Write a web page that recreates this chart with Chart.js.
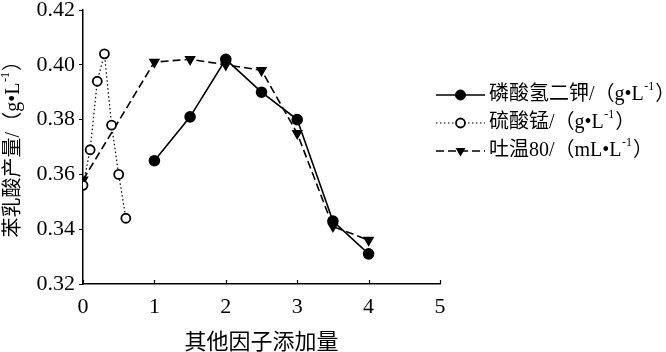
<!DOCTYPE html>
<html>
<head>
<meta charset="utf-8">
<script src="https://cdn.jsdelivr.net/npm/chart.js@4/dist/chart.umd.min.js"></script>
<style>
html,body{margin:0;padding:0;background:#fff;}
#wrap{width:666px;height:352px;position:relative;}
</style>
</head>
<body>
<div id="wrap"><canvas id="c" width="666" height="352"></canvas></div>
<script>
// ---- data ----
const seriesNames = ['磷酸氢二钾/（g•L', '硫酸锰/（g•L', '吐温80/（mL•L'];
const seriesUnitSup = '-1';
const k2hpo4X = [1, 1.5, 2, 2.5, 3, 3.5, 4];
const k2hpo4Y = [0.365, 0.381, 0.402, 0.390, 0.380, 0.343, 0.331];
const mnso4X = [0, 0.1, 0.2, 0.3, 0.4, 0.5, 0.6];
const mnso4Y = [0.356, 0.369, 0.394, 0.404, 0.378, 0.360, 0.344];
const tweenX = [0, 1, 1.5, 2, 2.5, 3, 3.5, 4];
const tweenY = [0.358, 0.401, 0.402, 0.400, 0.398, 0.375, 0.341, 0.336];
const xTicks = [0, 1, 2, 3, 4, 5];
const yTicks = [0.32, 0.34, 0.36, 0.38, 0.40, 0.42];
const xTitle = '其他因子添加量';
const yTitle = '苯乳酸产量/（g•L';

const pts = (xs, ys) => xs.map((x, i) => ({x: x, y: ys[i]}));
const SERIF = "'Liberation Serif', 'Noto Sans CJK SC', serif";

const datasets = [
  {label: seriesNames[0], data: pts(k2hpo4X, k2hpo4Y), borderColor: '#000', backgroundColor: '#000',
   borderWidth: 1.6, pointStyle: 'circle', pointRadius: 5, pointBackgroundColor: '#000', pointBorderColor: '#000', borderDash: []},
  {label: seriesNames[1], data: pts(mnso4X, mnso4Y), borderColor: '#000', backgroundColor: '#fff',
   borderWidth: 1.2, pointStyle: 'circle', pointRadius: 4.5, pointBorderWidth: 1.8, pointBackgroundColor: '#fff', pointBorderColor: '#000', borderDash: [1.5, 2.5]},
  {label: seriesNames[2], data: pts(tweenX, tweenY), borderColor: '#000', backgroundColor: '#000',
   borderWidth: 1.6, pointStyle: 'triangle', rotation: 180, pointRadius: 5, pointBackgroundColor: '#000', pointBorderColor: '#000', borderDash: [8, 4]}
];

function drawSupText(ctx, x, y, main, sup, tail, size) {
  ctx.font = size + 'px ' + SERIF;
  ctx.fillText(main, x, y);
  let w = ctx.measureText(main).width;
  ctx.font = Math.round(size * 0.6) + 'px ' + SERIF;
  ctx.fillText(sup, x + w + 0.5, y - size * 0.42);
  let w2 = ctx.measureText(sup).width;
  ctx.font = size + 'px ' + SERIF;
  ctx.fillText(tail, x + w + w2 + 1.5, y);
}
function supWidth(ctx, main, sup, tail, size) {
  ctx.font = size + 'px ' + SERIF;
  const a = ctx.measureText(main).width + ctx.measureText(tail).width;
  ctx.font = Math.round(size * 0.6) + 'px ' + SERIF;
  return a + ctx.measureText(sup).width + 2;
}

const customPlugin = {
  id: 'custom',
  afterDraw(chart) {
    const ctx = chart.ctx;
    const xs = chart.scales.x, ys = chart.scales.y;
    ctx.save();
    // inward x ticks
    ctx.strokeStyle = '#000'; ctx.lineWidth = 1.2;
    xTicks.forEach(v => {
      const px = Math.round(xs.getPixelForValue(v)) + 0.5;
      ctx.beginPath(); ctx.moveTo(px, ys.bottom); ctx.lineTo(px, ys.bottom - 4); ctx.stroke();
    });
    // y title (rotated)
    ctx.fillStyle = '#000';
    ctx.translate(14, 144);
    ctx.rotate(-Math.PI / 2);
    ctx.textBaseline = 'middle';
    const total = supWidth(ctx, yTitle, seriesUnitSup, '）', 20);
    drawSupText(ctx, -total / 2, 0, yTitle, seriesUnitSup, '）', 20);
    ctx.restore();

    // legend
    ctx.save();
    ctx.fillStyle = '#000'; ctx.strokeStyle = '#000';
    ctx.textBaseline = 'middle';
    const lx0 = 436, lx1 = 485, tx = 489;
    const rows = [95, 123, 151];
    datasets.forEach((d, i) => {
      const y = rows[i];
      ctx.lineWidth = d.borderWidth;
      ctx.setLineDash(d.borderDash);
      ctx.beginPath(); ctx.moveTo(lx0, y); ctx.lineTo(lx1, y); ctx.stroke();
      ctx.setLineDash([]);
      const cx = (lx0 + lx1) / 2;
      if (d.pointStyle === 'circle') {
        ctx.beginPath(); ctx.arc(cx, y, d.pointRadius, 0, Math.PI * 2);
        ctx.fillStyle = d.pointBackgroundColor; ctx.fill();
        ctx.lineWidth = d.pointBorderWidth || 1; ctx.stroke();
      } else {
        const r = d.pointRadius;
        ctx.beginPath();
        ctx.moveTo(cx - r, y - r * 0.6); ctx.lineTo(cx + r, y - r * 0.6); ctx.lineTo(cx, y + r * 1.1);
        ctx.closePath(); ctx.fillStyle = '#000'; ctx.fill();
      }
      ctx.fillStyle = '#000';
      drawSupText(ctx, tx, y, d.label, seriesUnitSup, '）', 20);
    });
    ctx.restore();
  }
};

new Chart(document.getElementById('c'), {
  type: 'line',
  data: {datasets: datasets},
  options: {
    responsive: false,
    animation: false,
    events: [],
    layout: {padding: {left: 30, right: 226, top: 10, bottom: 0}},
    plugins: {legend: {display: false}, tooltip: {enabled: false}},
    scales: {
      x: {
        type: 'linear', min: 0, max: 5,
        afterBuildTicks: s => { s.ticks = xTicks.map(v => ({value: v})); },
        afterFit: s => { s.height = 68; s.paddingLeft = 0; s.paddingRight = 0; },
        border: {color: '#000', width: 1.5},
        grid: {display: true, drawOnChartArea: false, drawTicks: false, tickLength: 0},
        ticks: {color: '#000', padding: 10, font: {family: SERIF, size: 22}, callback: v => String(v)},
        title: {display: true, text: xTitle, color: '#000', font: {family: SERIF, size: 22}, padding: {top: 0, bottom: -4}}
      },
      y: {
        type: 'linear', min: 0.32, max: 0.42,
        afterBuildTicks: s => { s.ticks = yTicks.map(v => ({value: v})); },
        afterFit: s => { s.width = 53; s.paddingTop = 0; s.paddingBottom = 0; },
        border: {color: '#000', width: 1.5},
        grid: {display: true, drawOnChartArea: false, drawTicks: true, tickLength: 4, color: '#000'},
        ticks: {color: '#000', padding: 4, font: {family: SERIF, size: 22}, callback: v => v.toFixed(2)}
      }
    }
  },
  plugins: [customPlugin]
});
</script>
</body>
</html>
